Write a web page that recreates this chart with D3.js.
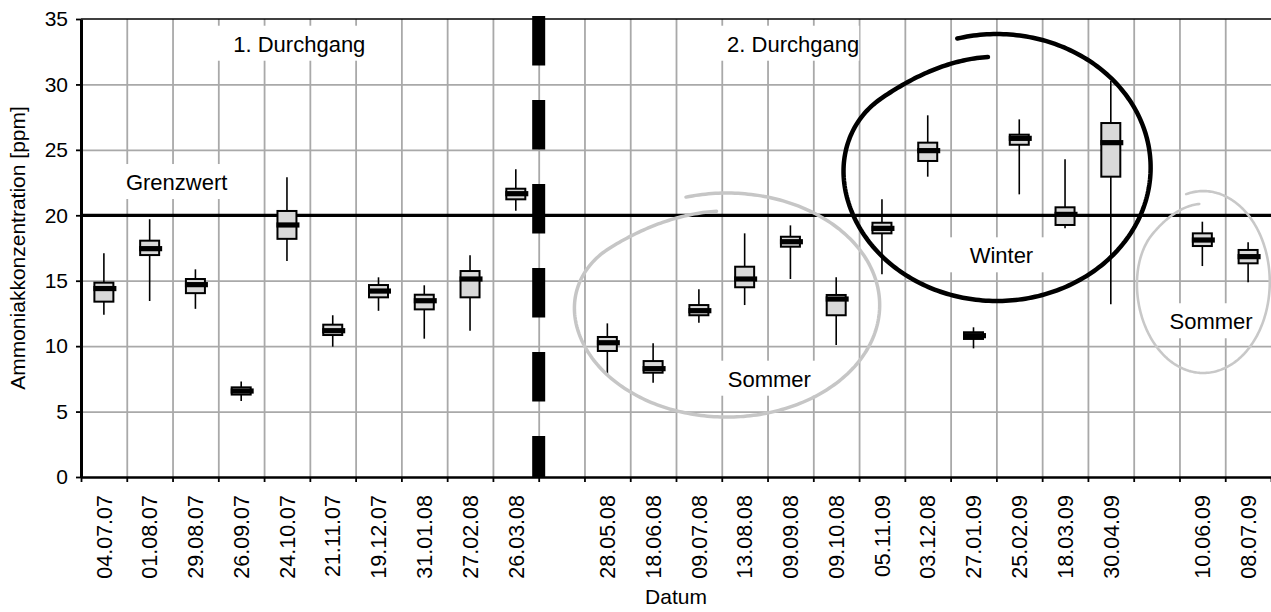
<!DOCTYPE html>
<html>
<head>
<meta charset="utf-8">
<script src="https://cdn.jsdelivr.net/npm/d3@7"></script>
<style>
  body { margin: 0; background: #fff; }
  svg { display: block; }
  text { font-family: "Liberation Sans", Arial, sans-serif; fill: #000; }
</style>
</head>
<body>
<svg id="chart" width="1271" height="612"></svg>
<script>
// Sampling dates; "" marks an empty slot on the axis (no measurement)
const dates = ["04.07.07","01.08.07","29.08.07","26.09.07","24.10.07","21.11.07","19.12.07","31.01.08","27.02.08","26.03.08","",
  "28.05.08","18.06.08","09.07.08","13.08.08","09.09.08","09.10.08","05.11.09","03.12.08","27.01.09","25.02.09","18.03.09","30.04.09","",
  "10.06.09","08.07.09"];

// Ammonia concentration statistics per date [ppm]
const whiskerLow  = [12.4,13.45,12.85,5.8,16.5,9.96,12.7,10.57,11.18,20.35,null,7.82,7.21,11.79,13.14,15.13,10.09,15.49,22.95,9.83,21.6,19.0,13.2,null,16.12,14.88];
const quartileLow = [13.4,16.96,14.05,6.3,18.2,10.85,13.73,12.81,13.73,21.22,null,9.63,7.97,12.36,14.5,17.6,12.36,18.62,24.15,10.55,25.39,19.26,22.95,null,17.65,16.33];
const median      = [14.4,17.45,14.7,6.57,19.26,11.18,14.21,13.47,15.13,21.65,null,10.26,8.28,12.71,15.13,17.98,13.6,19.0,24.94,10.8,25.88,20.07,25.55,null,18.11,16.84];
const quartileHigh= [14.85,18.06,15.13,6.85,20.33,11.64,14.67,13.93,15.74,22.03,null,10.7,8.86,13.14,16.07,18.36,13.91,19.43,25.55,11.06,26.16,20.61,27.05,null,18.62,17.35];
const whiskerHigh = [17.1,19.7,15.87,7.3,22.9,12.36,15.26,14.65,16.94,23.51,null,11.74,10.22,14.34,18.62,19.23,15.26,21.22,27.64,11.44,27.33,24.28,30.26,null,19.51,17.93];

const yTicks = [0, 5, 10, 15, 20, 25, 30, 35];
const limitValue = 20;          // Grenzwert
const separatorSlot = 10;       // boundary between 1. and 2. Durchgang

const svg = d3.select("#chart");
const plotLeft = 81, plotRight = 1271, plotTop = 19, plotBottom = 477;

const x = d3.scaleBand().domain(d3.range(dates.length)).range([plotLeft, plotRight]).padding(0);
const xs = d3.scaleLinear().domain([0, dates.length]).range([plotLeft, plotRight]);   // slot units
const y = d3.scaleLinear().domain([0, 35]).range([plotBottom, plotTop]);

const gridColor = "#a9a9a9";
const fontFamily = '"Liberation Sans", Arial, sans-serif';

// ---- grid ----
const gx = svg.append("g").attr("transform", `translate(0,${plotBottom})`)
  .call(d3.axisBottom(xs).tickValues(d3.range(1, dates.length)).tickSize(-(plotBottom - plotTop)).tickFormat(""));
gx.select(".domain").remove();
gx.selectAll("line").attr("stroke", gridColor).attr("stroke-width", 1.8);

const gy = svg.append("g").attr("transform", `translate(${plotLeft},0)`)
  .call(d3.axisLeft(y).tickValues(yTicks.filter(v => v > 0 && v < 35)).tickSize(-(plotRight - plotLeft)).tickFormat(""));
gy.select(".domain").remove();
gy.selectAll("line").attr("stroke", gridColor).attr("stroke-width", 1.8);

// ---- text annotations on white boxes ----
const notes = [
  {text: "1. Durchgang", s: 4.77, v: 32.5, padL: 18, padR: 8},
  {text: "2. Durchgang", s: 15.56, v: 32.5, padL: 8, padR: 0},
  {text: "Grenzwert", s: 2.09, v: 21.93, padL: 6, padR: 8},
  {text: "Sommer", s: 15.04, v: 6.9, padL: 8, padR: 5},
  {text: "Winter", s: 20.11, v: 16.33, padL: 20, padR: 12},
  {text: "Sommer", s: 24.69, v: 11.29, padL: 8, padR: 8}
];
const noteG = svg.append("g");
notes.forEach(n => {
  const g = noteG.append("g");
  const r = g.append("rect").attr("fill", "#fff");
  const t = g.append("text")
    .attr("x", xs(n.s)).attr("y", y(n.v))
    .attr("text-anchor", "middle")
    .style("font-size", "22px")
    .text(n.text);
  const b = t.node().getBBox();
  r.attr("x", b.x - n.padL).attr("width", b.width + n.padL + n.padR)
   .attr("y", y(n.v) - 26).attr("height", 35);
});

// ---- limit line ----
svg.append("line")
  .attr("x1", plotLeft).attr("x2", plotRight)
  .attr("y1", y(limitValue)).attr("y2", y(limitValue))
  .attr("stroke", "#000").attr("stroke-width", 3.2);

// ---- box plots ----
const idx = d3.range(dates.length).filter(i => median[i] != null);
const bw = x.bandwidth() * 0.415;
const cx = i => x(i) + x.bandwidth() / 2;
const boxes = svg.append("g").selectAll("g").data(idx).join("g");
boxes.append("line")
  .attr("x1", cx).attr("x2", cx)
  .attr("y1", i => y(whiskerLow[i])).attr("y2", i => y(whiskerHigh[i]))
  .attr("stroke", "#000").attr("stroke-width", 1.6);
boxes.append("rect")
  .attr("x", i => cx(i) - bw / 2).attr("width", bw)
  .attr("y", i => y(quartileHigh[i]))
  .attr("height", i => y(quartileLow[i]) - y(quartileHigh[i]))
  .attr("fill", "#d9d9d9").attr("stroke", "#000").attr("stroke-width", 2);
boxes.append("rect")
  .attr("x", i => cx(i) - bw / 2 - 1).attr("width", bw + 4)
  .attr("y", i => y(median[i]) - 2.6).attr("height", 5.2)
  .attr("fill", "#000");

// ---- separator between the two passes ----
svg.append("line")
  .attr("x1", xs(separatorSlot)).attr("x2", xs(separatorSlot))
  .attr("y1", y(35) - 3).attr("y2", plotBottom)
  .attr("stroke", "#000").attr("stroke-width", 13)
  .attr("stroke-dasharray", "49.5,34.5");

// ---- axes ----
svg.append("line").attr("x1", plotLeft).attr("x2", plotRight).attr("y1", plotTop).attr("y2", plotTop)
  .attr("stroke", "#000").attr("stroke-width", 1.6);

const ay = svg.append("g").attr("transform", `translate(${plotLeft},0)`)
  .call(d3.axisLeft(y).tickValues(yTicks).tickSizeInner(5).tickSizeOuter(0).tickPadding(8));
ay.select(".domain").attr("stroke", "#000").attr("stroke-width", 3);
ay.selectAll(".tick line").attr("stroke", "#000").attr("stroke-width", 1.8);
ay.selectAll("text").style("font-size", "21px").style("font-family", fontFamily);

const axTicks = svg.append("g").attr("transform", `translate(0,${plotBottom})`)
  .call(d3.axisBottom(xs).tickValues(d3.range(0, dates.length + 1)).tickSizeInner(5).tickSizeOuter(0).tickFormat(""));
axTicks.select(".domain").attr("stroke", "#000").attr("stroke-width", 2.6);
axTicks.selectAll(".tick line").attr("stroke", "#000").attr("stroke-width", 1.8);

const axLabels = svg.append("g").attr("transform", `translate(0,${plotBottom})`)
  .call(d3.axisBottom(x).tickSize(0).tickFormat(i => dates[i]));
axLabels.select(".domain").remove();
axLabels.selectAll("text")
  .attr("transform", "rotate(-90)")
  .attr("x", -18).attr("y", 0).attr("dy", "0.36em")
  .attr("text-anchor", "end")
  .style("font-size", "21.5px")
  .style("font-family", fontFamily);

// axis titles
svg.append("text")
  .attr("x", (plotLeft + plotRight) / 2).attr("y", 604)
  .attr("text-anchor", "middle").style("font-size", "21px")
  .text("Datum");
svg.append("text")
  .attr("transform", `translate(25,${(plotTop + plotBottom) / 2}) rotate(-90)`)
  .attr("text-anchor", "middle").style("font-size", "21px")
  .text("Ammoniakkonzentration [ppm]");

// ---- hand-drawn season loops (in slot / ppm units) ----
const loops = [
  {cs: 14.11, cv: 13.14, rs: 3.34, rv: 8.56, start: -0.27, sweep: 2 * Math.PI + 0.19, shrink: 0.16, color: "#c6c6c6", width: 3.5},
  {cs: 20.01, cv: 23.65, rs: 3.36, rv: 10.2, start: -0.26, sweep: 2 * Math.PI + 0.19, shrink: 0.17, color: "#000", width: 4.5},
  {cs: 24.52, cv: 14.9, rs: 1.453, rv: 6.95, start: -0.26, sweep: 2 * Math.PI + 0.19, shrink: 0.14, color: "#c8c8c8", width: 2.6}
];
const ease = t => t < 0.72 ? 0 : d3.easeCubicInOut((t - 0.72) / 0.28);
loops.forEach(l => {
  const n = 300;
  const px = xs(l.cs), py = y(l.cv);
  const rx = xs(l.cs + l.rs) - px, ry = py - y(l.cv + l.rv);
  const pts = d3.range(n + 1).map(k => {
    const t = k / n, th = l.start + t * l.sweep, f = 1 - l.shrink * ease(t);
    return [px + rx * f * Math.sin(th), py - ry * f * Math.cos(th)];
  });
  svg.append("path").attr("d", d3.line()(pts))
    .attr("fill", "none").attr("stroke", l.color).attr("stroke-width", l.width)
    .attr("stroke-linecap", "round");
});
</script>
</body>
</html>
